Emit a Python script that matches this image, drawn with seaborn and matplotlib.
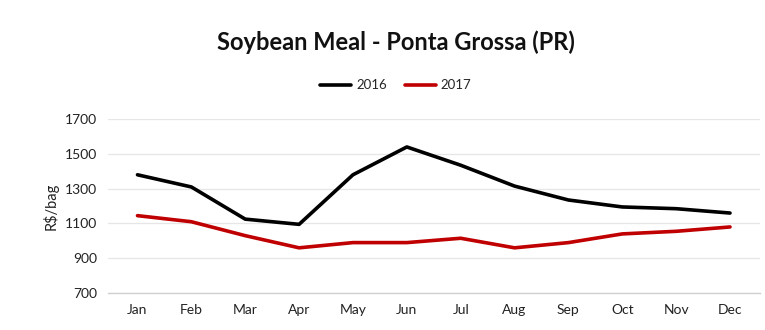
import numpy as np
import pandas as pd
import matplotlib
matplotlib.use("Agg")
import matplotlib.pyplot as plt
import seaborn as sns

months = ["Jan", "Feb", "Mar", "Apr", "May", "Jun", "Jul", "Aug", "Sep", "Oct", "Nov", "Dec"]
price_2016 = [1380, 1310, 1125, 1095, 1380, 1540, 1435, 1315, 1235, 1195, 1185, 1160]
price_2017 = [1145, 1110, 1030, 960, 990, 990, 1015, 960, 990, 1040, 1055, 1080]
yticks = [700, 900, 1100, 1300, 1500, 1700]

sns.set_style("white")
plt.rcParams["font.family"] = ["Lato", "DejaVu Sans"]

df = pd.DataFrame({
    "Month": months * 2,
    "Price": price_2016 + price_2017,
    "Year": ["2016"] * 12 + ["2017"] * 12,
})

fig = plt.figure(figsize=(7.65, 3.3), dpi=100)
ax = fig.add_axes([0.141, 0.112, 0.852, 0.527])

sns.lineplot(data=df, x="Month", y="Price", hue="Year",
             palette={"2016": "#000000", "2017": "#c00000"},
             linewidth=2.6, ax=ax, sort=False)

ax.set_ylim(700, 1700)
ax.set_xlim(-0.55, 11.55)
ax.set_yticks(yticks)
ax.yaxis.grid(True, color="#e6e6e6", linewidth=0.9)
ax.set_axisbelow(True)
for s in ["top", "right", "left"]:
    ax.spines[s].set_visible(False)
ax.spines["bottom"].set_color("#d0d0d0")
ax.spines["bottom"].set_linewidth(1.0)
ax.tick_params(axis="both", length=0, labelsize=10, colors="#222222", pad=8)
ax.set_xlabel("")
ax.set_ylabel("R$/bag", fontsize=10.5, color="#222222", labelpad=4)

ax.legend(loc="center", bbox_to_anchor=(0.442, 1.195), ncol=2, frameon=False,
          fontsize=9.5, handlelength=2.3, columnspacing=1.4, handletextpad=0.4)

fig.text(0.517, 0.873, "Soybean Meal - Ponta Grossa (PR)", ha="center", va="center",
         fontsize=17, fontweight="bold", color="#111111")

fig.savefig("out.png", dpi=100, facecolor="white")
